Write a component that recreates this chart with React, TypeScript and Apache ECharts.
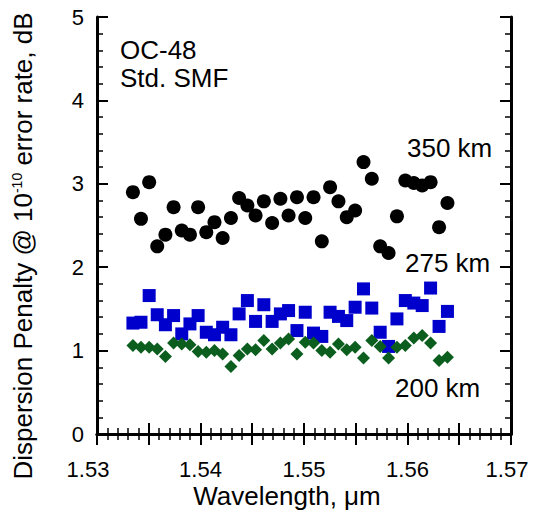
import React, { useEffect, useRef } from "react";
import * as echarts from "echarts";

// ITU 100 GHz channel wavelengths, µm
const wavelengths = [
  1.53347, 1.53425, 1.53504, 1.53582, 1.53661, 1.5374, 1.53819, 1.53898,
  1.53977, 1.54056, 1.54135, 1.54214, 1.54294, 1.54373, 1.54453, 1.54532,
  1.54612, 1.54692, 1.54772, 1.54851, 1.54932, 1.55012, 1.55092, 1.55172,
  1.55252, 1.55333, 1.55413, 1.55494, 1.55575, 1.55655, 1.55736, 1.55817,
  1.55898, 1.55979, 1.56061, 1.56142, 1.56223, 1.56305, 1.56386,
];

// Dispersion penalty (dB) per channel for each fibre length
const penalty350km = [
  2.9, 2.58, 3.02, 2.25, 2.39, 2.72, 2.44, 2.39, 2.72, 2.42, 2.54, 2.35, 2.59,
  2.83, 2.74, 2.62, 2.79, 2.53, 2.82, 2.62, 2.84, 2.59, 2.84, 2.31, 2.96, 2.79,
  2.6, 2.68, 3.26, 3.06, 2.25, 2.17, 2.61, 3.04, 3.01, 2.98, 3.02, 2.48, 2.77,
];
const penalty275km = [
  1.33, 1.34, 1.66, 1.43, 1.31, 1.42, 1.2, 1.32, 1.42, 1.22, 1.19, 1.28, 1.19,
  1.44, 1.6, 1.35, 1.55, 1.35, 1.44, 1.48, 1.24, 1.46, 1.21, 1.17, 1.46, 1.41,
  1.36, 1.52, 1.74, 1.51, 1.22, 1.05, 1.38, 1.6, 1.57, 1.54, 1.75, 1.29, 1.47,
];
const penalty200km = [
  1.06, 1.04, 1.04, 1.02, 0.93, 1.09, 1.08, 1.07, 0.99, 0.98, 1.0, 0.96, 0.81,
  0.94, 1.02, 1.01, 1.12, 1.02, 1.09, 1.14, 0.96, 1.1, 1.09, 1.0, 0.98, 1.08,
  1.01, 1.04, 0.91, 1.12, 1.05, 0.91, 1.04, 1.06, 1.15, 1.18, 1.09, 0.88, 0.92,
];

const FONT = "'Liberation Sans', Arial, Helvetica, sans-serif";

const pairs = (ys: number[]) => wavelengths.map((w, i) => [w, ys[i]]);

const axisLine = { show: true, lineStyle: { color: "#000", width: 3 } };
const axisTick = { show: true, inside: true, length: 11, lineStyle: { color: "#000", width: 2 } };
const minorTick = { show: true, splitNumber: 5, length: 6, lineStyle: { color: "#000", width: 1.5 } };

const xLabelFormatter = (v: number) => {
  const thousandths = Math.round(v * 1000);
  if (thousandths % 10 !== 0) return "";
  const s = v.toFixed(2);
  if (s === "1.53") return "{l|1.53}";
  if (s === "1.57") return "{r|1.57}";
  return s;
};

export default function App() {
  const ref = useRef<HTMLDivElement>(null);

  useEffect(() => {
    if (!ref.current) return;
    const chart = echarts.init(ref.current, undefined, { renderer: "svg" });
    const tickFont = { fontFamily: FONT, fontSize: 22, color: "#000" };
    const bigText = { fontFamily: FONT, fontSize: 26, fill: "#000" };

    chart.setOption({
      animation: false,
      backgroundColor: "#fff",
      grid: { left: 97, right: 24, top: 17, bottom: 76 },
      xAxis: [
        {
          type: "value",
          position: "bottom",
          min: 1.53,
          max: 1.57,
          interval: 0.005,
          axisLine,
          axisTick,
          minorTick,
          splitLine: { show: false },
          axisLabel: {
            ...tickFont,
            margin: 24,
            showMinLabel: true,
            showMaxLabel: true,
            formatter: xLabelFormatter,
            rich: {
              l: { ...tickFont, padding: [0, 18, 0, 0] },
              r: { ...tickFont, padding: [0, 8, 0, 0] },
            },
          },
        },
        {
          type: "value",
          position: "top",
          min: 1.53,
          max: 1.57,
          interval: 0.005,
          axisLine,
          axisTick,
          minorTick,
          splitLine: { show: false },
          axisLabel: { show: false },
        },
      ],
      yAxis: [
        {
          type: "value",
          position: "left",
          min: 0,
          max: 5,
          interval: 1,
          axisLine,
          axisTick,
          minorTick,
          splitLine: { show: false },
          axisLabel: { ...tickFont, margin: 13 },
        },
        {
          type: "value",
          position: "right",
          min: 0,
          max: 5,
          interval: 1,
          axisLine,
          axisTick,
          minorTick,
          splitLine: { show: false },
          axisLabel: { show: false },
        },
      ],
      series: [
        {
          name: "350 km",
          type: "scatter",
          symbol: "circle",
          symbolSize: 14,
          itemStyle: { color: "#000", opacity: 1 },
          data: pairs(penalty350km),
        },
        {
          name: "275 km",
          type: "scatter",
          symbol: "rect",
          symbolSize: 13,
          itemStyle: { color: "#0000cc", opacity: 1 },
          data: pairs(penalty275km),
        },
        {
          name: "200 km",
          type: "scatter",
          symbol: "diamond",
          symbolSize: 13,
          itemStyle: { color: "#0b5e1d", opacity: 1 },
          data: pairs(penalty200km),
        },
      ],
      graphic: [
        {
          type: "text",
          x: 120,
          y: 50,
          style: { ...bigText, text: "OC-48", align: "left", verticalAlign: "middle" },
        },
        {
          type: "text",
          x: 120,
          y: 78,
          style: { ...bigText, text: "Std. SMF", align: "left", verticalAlign: "middle" },
        },
        {
          type: "text",
          x: 407,
          y: 148,
          style: { ...bigText, text: "350 km", align: "left", verticalAlign: "middle" },
        },
        {
          type: "text",
          x: 405,
          y: 263,
          style: { ...bigText, text: "275 km", align: "left", verticalAlign: "middle" },
        },
        {
          type: "text",
          x: 395,
          y: 388,
          style: { ...bigText, text: "200 km", align: "left", verticalAlign: "middle" },
        },
        {
          type: "text",
          x: 287,
          y: 496,
          style: { ...bigText, text: "Wavelength, μm", align: "center", verticalAlign: "middle" },
        },
        {
          type: "text",
          x: 23,
          y: 246,
          rotation: Math.PI / 2,
          style: {
            text: "{a|Dispersion Penalty @ 10}{s|-10}{a| error rate, dB}",
            align: "center",
            verticalAlign: "middle",
            fill: "#000",
            rich: {
              a: { fontFamily: FONT, fontSize: 26, color: "#000" },
              s: { fontFamily: FONT, fontSize: 14, color: "#000", verticalAlign: "top" },
            },
          },
        },
      ],
    });

    return () => chart.dispose();
  }, []);

  return (
    <div
      ref={ref}
      style={{ position: "fixed", left: 0, top: 0, width: 535, height: 510 }}
    />
  );
}
